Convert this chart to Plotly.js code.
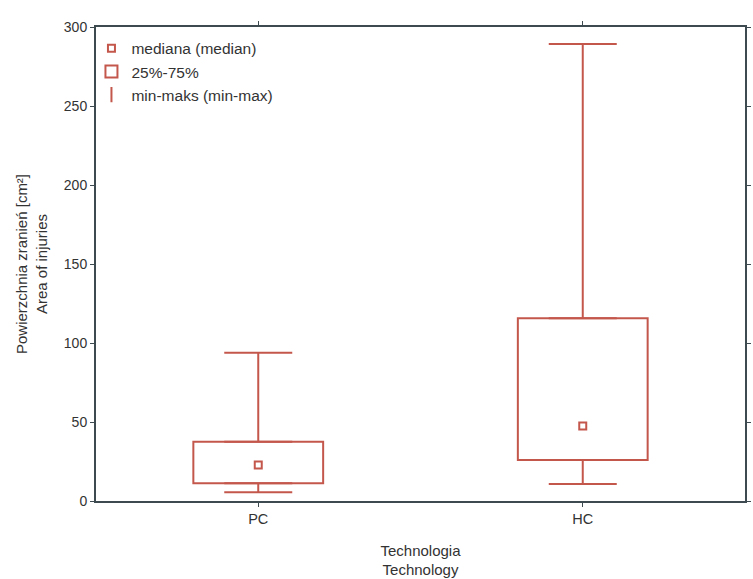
<!DOCTYPE html>
<html><head><meta charset="utf-8">
<script src="https://cdn.plot.ly/plotly-3.0.1.min.js"></script>
<style>body{margin:0;background:#fff}#chart{width:753px;height:579px}</style>
</head><body><div id="chart"></div>
<script>
const categories = ['PC', 'HC'];
const minVals = [5.5, 10.8];
const q1Vals = [11.2, 25.9];
const medianVals = [22.8, 47.5];
const q3Vals = [37.5, 115.6];
const maxVals = [93.9, 289.2];
const yTickVals = [0, 50, 100, 150, 200, 250, 300];

const RED = '#c4574c';
const AX = '#3d4a50';
const TXT = '#333333';

const boxTrace = {
  type: 'bar', x: categories, base: q1Vals,
  y: q3Vals.map((v, i) => v - q1Vals[i]),
  width: 0.4, name: '25%-75%', legendrank: 2,
  marker: {color: 'rgba(0,0,0,0)', line: {color: RED, width: 2}},
  hoverinfo: 'skip'
};
const upperWhisker = {
  type: 'scatter', mode: 'markers', x: categories, y: q3Vals,
  marker: {size: 1, opacity: 0}, showlegend: false, hoverinfo: 'skip',
  error_y: {type: 'data', symmetric: false,
    array: maxVals.map((v, i) => v - q3Vals[i]),
    arrayminus: q3Vals.map(() => 0),
    width: 34, thickness: 2, color: RED}
};
const lowerWhisker = {
  type: 'scatter', mode: 'markers', x: categories, y: q1Vals,
  marker: {size: 1, opacity: 0}, showlegend: false, hoverinfo: 'skip',
  error_y: {type: 'data', symmetric: false,
    array: q1Vals.map(() => 0),
    arrayminus: q1Vals.map((v, i) => v - minVals[i]),
    width: 34, thickness: 2, color: RED}
};
const medianTrace = {
  type: 'scatter', mode: 'markers', x: categories, y: medianVals,
  name: 'mediana (median)', legendrank: 1,
  marker: {symbol: 'square-open', size: 7, color: RED, line: {width: 2, color: RED}}
};
const rangeLegend = {
  type: 'scatter', mode: 'markers', x: [null], y: [null],
  name: 'min-maks (min-max)', legendrank: 3,
  marker: {symbol: 'line-ns-open', size: 11, color: RED, line: {width: 2, color: RED}}
};

const layout = {
  width: 753, height: 579,
  margin: {l: 96, r: 8, t: 27, b: 78},
  paper_bgcolor: '#fff', plot_bgcolor: '#fff',
  font: {family: 'Liberation Sans, Arial, sans-serif', size: 15, color: TXT},
  showlegend: true,
  legend: {x: -0.007, y: 0.99, xanchor: 'left', yanchor: 'top',
    bgcolor: 'rgba(0,0,0,0)', font: {size: 15.5, color: TXT},
    tracegroupgap: 0, itemwidth: 30},
  barmode: 'overlay',
  xaxis: {
    type: 'category', range: [-0.5, 1.5],
    showline: true, linecolor: AX, linewidth: 2, mirror: 'ticks',
    ticks: 'outside', ticklen: 4, tickcolor: AX, showgrid: false, zeroline: false,
    tickfont: {size: 14.5, color: TXT},
    title: {text: 'Technologia<br>Technology', font: {size: 15, color: TXT}, standoff: 19}
  },
  yaxis: {
    range: [0, 300], tickvals: yTickVals, ticktext: yTickVals.map(String),
    showline: true, linecolor: AX, linewidth: 2, mirror: 'ticks',
    ticks: 'outside', ticklen: 4, tickcolor: AX, showgrid: false, zeroline: false,
    tickfont: {size: 14, color: TXT},
    title: {text: 'Powierzchnia zranień [cm²]<br>Area of injuries', font: {size: 15, color: TXT}, standoff: 13}
  }
};

Plotly.newPlot('chart', [boxTrace, upperWhisker, lowerWhisker, medianTrace, rangeLegend], layout, {displayModeBar: false, staticPlot: true});
</script>
</body></html>
